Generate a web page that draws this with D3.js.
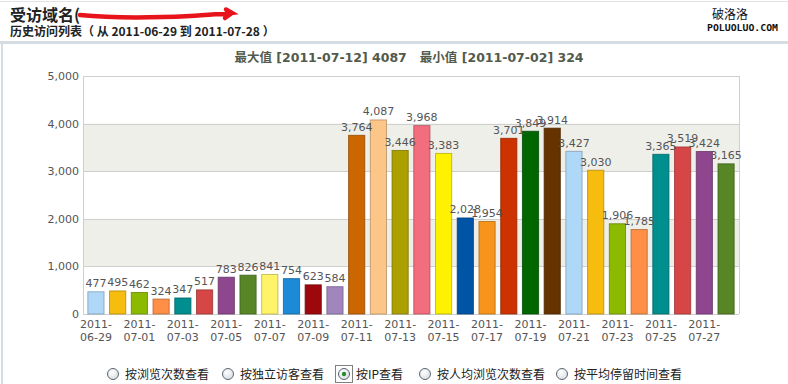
<!DOCTYPE html>
<html><head><meta charset="utf-8">
<script src="https://cdn.jsdelivr.net/npm/d3@7/dist/d3.min.js"></script>
<style>
html,body{margin:0;padding:0;background:#fff;}
svg{display:block;}
</style></head>
<body>
<svg id="c" width="788" height="384"></svg>
<script>
const dates = ["2011-06-29","2011-06-30","2011-07-01","2011-07-02","2011-07-03","2011-07-04","2011-07-05","2011-07-06","2011-07-07","2011-07-08","2011-07-09","2011-07-10","2011-07-11","2011-07-12","2011-07-13","2011-07-14","2011-07-15","2011-07-16","2011-07-17","2011-07-18","2011-07-19","2011-07-20","2011-07-21","2011-07-22","2011-07-23","2011-07-24","2011-07-25","2011-07-26","2011-07-27","2011-07-28"];
const ipCounts = [477,495,462,324,347,517,783,826,841,754,623,584,3764,4087,3446,3968,3383,2028,1954,3701,3849,3914,3427,3030,1906,1785,3365,3519,3424,3165];
const palette = ["#AFD8F8","#F6BD0F","#8BBA00","#FF8E46","#008E8E","#D64646","#8E468E","#588526","#FFF468","#1C8AD6","#9D080D","#A186BE","#CC6600","#FDC689","#ABA000","#F26D7D","#FFF200","#0054A6","#F7941C","#CC3300","#006600","#663300"];
const yTicks = [0,1000,2000,3000,4000,5000];
const titleText = "最大值 [2011-07-12] 4087\u00a0\u00a0 最小值 [2011-07-02] 324";
const headerTitle = "受访域名(";
const headerSub = "历史访问列表（ 从 2011-06-29 到 2011-07-28 ）";
const radioLabels = ["按浏览次数查看","按独立访客查看","按IP查看","按人均浏览次数查看","按平均停留时间查看"];
const radioChecked = 2;

(function(){
const svg = d3.select("#c");
const CJK = "'Noto Sans CJK SC','DejaVu Sans',sans-serif";
const NUM = "'DejaVu Sans',Verdana,sans-serif";

// page frame
svg.append("line").attr("x1",0).attr("x2",788).attr("y1",1.5).attr("y2",1.5).attr("stroke","#e2e2e2");
svg.append("rect").attr("x",0).attr("y",41).attr("width",788).attr("height",3).attr("fill","#d6dde2");
svg.append("rect").attr("x",1).attr("y",44).attr("width",2).attr("height",340).attr("fill","#d6dde2");

// header
svg.append("text").attr("x",10).attr("y",21).attr("font-family",CJK).attr("font-weight","bold")
  .attr("font-size",16).attr("fill","#222").text(headerTitle);
svg.append("path").attr("d","M80,15 C110,18 150,18 190,16 C205,15 215,14 225,14 L232,13 L226,9.5 M232,13 L225,18")
  .attr("fill","none").attr("stroke","#e8141b").attr("stroke-width",4.5).attr("stroke-linecap","round");
svg.append("text").attr("x",10).attr("y",36).attr("font-family",CJK).attr("font-weight","bold")
  .attr("font-size",12).attr("fill","#222").text(headerSub);
svg.append("text").attr("x",730).attr("y",19).attr("text-anchor","middle").attr("font-family",CJK)
  .attr("font-size",12).attr("fill","#111").text("破洛洛");
svg.append("text").attr("x",707).attr("y",31).attr("font-family","'DejaVu Sans Mono',monospace")
  .attr("font-size",9).attr("font-weight","bold").attr("fill","#111").attr("textLength",71)
  .attr("lengthAdjust","spacingAndGlyphs").text("POLUOLUO.COM");

// chart title
svg.append("text").attr("x",409).attr("y",62).attr("text-anchor","middle")
  .attr("font-family","'DejaVu Sans','Noto Sans CJK SC',sans-serif")
  .attr("font-weight","bold").attr("font-size",12.5).attr("fill","#525a4c")
  .text(titleText);

// scales
const pL=83, pR=739, pT=76, pB=314;
const x = d3.scaleBand().domain(dates).range([pL,pR]).paddingInner(0.21).paddingOuter(0.2);
const y = d3.scaleLinear().domain([0,5000]).range([pB,pT]);

// bands
[[1000,2000],[3000,4000]].forEach(([a,b])=>{
  svg.append("rect").attr("x",pL).attr("width",pR-pL).attr("y",y(b)).attr("height",y(a)-y(b)).attr("fill","#efefe9");
});
// grid
svg.append("g").selectAll("line").data(yTicks).join("line")
  .attr("x1",pL).attr("x2",pR).attr("y1",d=>Math.round(y(d))+0.5).attr("y2",d=>Math.round(y(d))+0.5)
  .attr("stroke","#cfcfcf");
svg.append("line").attr("x1",pL+0.5).attr("x2",pL+0.5).attr("y1",pT).attr("y2",pB).attr("stroke","#cfcfcf");
svg.append("line").attr("x1",pR+0.5).attr("x2",pR+0.5).attr("y1",pT).attr("y2",pB).attr("stroke","#cfcfcf");

// y axis labels
const yAxis = d3.axisLeft(y).tickValues(yTicks).tickFormat(d3.format(",")).tickSize(0).tickPadding(4);
const ya = svg.append("g").attr("transform",`translate(${pL},0)`).call(yAxis);
ya.select(".domain").remove();
ya.selectAll("text").attr("font-family",NUM).attr("font-size",11).attr("fill","#555");

// bars
svg.selectAll("rect.bar").data(ipCounts).join("rect").attr("class","bar")
  .attr("x",(d,i)=>x(dates[i])+0.5).attr("width",x.bandwidth()-1)
  .attr("y",d=>y(d)+0.5).attr("height",d=>pB-y(d)-0.5)
  .attr("fill",(d,i)=>palette[i%palette.length])
  .attr("stroke",(d,i)=>d3.color(palette[i%palette.length]).darker(0.9).formatHex())
  .attr("stroke-opacity",0.8);

// value labels
const fmt = d3.format(",");
svg.selectAll("text.val").data(ipCounts).join("text").attr("class","val")
  .attr("x",(d,i)=>x(dates[i])+x.bandwidth()/2).attr("y",d=>y(d)-4)
  .attr("text-anchor","middle").attr("font-family",NUM).attr("font-size",11).attr("fill","#555")
  .text(d=>fmt(d));

// x labels
const xl = svg.selectAll("g.xl").data(dates.filter((d,i)=>i%2===0)).join("g").attr("class","xl")
  .attr("transform",d=>`translate(${x(d)+x.bandwidth()/2},0)`);
xl.append("text").attr("y",328).attr("text-anchor","middle").attr("font-family",NUM).attr("font-size",11)
  .attr("fill","#555").text(d=>d.slice(0,5));
xl.append("text").attr("y",341).attr("text-anchor","middle").attr("font-family",NUM).attr("font-size",11)
  .attr("fill","#555").text(d=>d.slice(5));

// radios
const radioX = [113,228,344,425,562];
const defs = svg.append("defs");
const rg = defs.append("radialGradient").attr("id","rg").attr("cx","40%").attr("cy","35%").attr("r","70%");
rg.append("stop").attr("offset","0%").attr("stop-color","#ffffff");
rg.append("stop").attr("offset","100%").attr("stop-color","#d8dde2");
const ry = 374;
radioLabels.forEach((lab,i)=>{
  const cx = radioX[i];
  svg.append("circle").attr("cx",cx).attr("cy",ry).attr("r",5.5).attr("fill","url(#rg)").attr("stroke","#5b6670").attr("stroke-width",1);
  if(i===radioChecked){
    svg.append("circle").attr("cx",cx).attr("cy",ry).attr("r",2.2).attr("fill","#2f8a2f");
    svg.append("rect").attr("x",cx-8.5).attr("y",ry-8.5).attr("width",17).attr("height",17)
      .attr("fill","none").attr("stroke","#000").attr("stroke-dasharray","1,1");
  }
  svg.append("text").attr("x",cx+12).attr("y",ry+4.5).attr("font-family",CJK).attr("font-size",12)
    .attr("fill","#222").text(lab);
});
})();
</script>
</body></html>
